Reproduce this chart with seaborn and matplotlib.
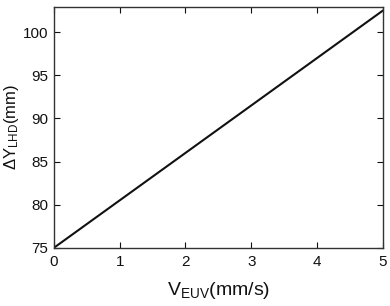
import pandas as pd
import matplotlib
matplotlib.use("Agg")
import matplotlib.pyplot as plt
import seaborn as sns

# Dados
v_euv = [0, 5]
delta_y = [75, 102.5]

sns.set_theme(style="ticks")
plt.rcParams['font.family'] = ['Liberation Sans', 'DejaVu Sans']
plt.rcParams['mathtext.fontset'] = 'custom'
plt.rcParams['mathtext.rm'] = 'Liberation Sans'
plt.rcParams['mathtext.it'] = 'Liberation Sans'

df = pd.DataFrame({'v': v_euv, 'dy': delta_y})

fig = plt.figure(figsize=(3.9, 3.06), dpi=100)
ax = fig.add_axes([0.138, 0.19, 0.844, 0.787])
sns.lineplot(data=df, x='v', y='dy', color='#111111', linewidth=1.5, ax=ax)

ax.set_xlim(0, 5)
ax.set_ylim(75, 102.9)
ax.set_xticks([0, 1, 2, 3, 4, 5])
ax.set_yticks([75, 80, 85, 90, 95, 100])
ax.tick_params(direction='in', top=True, right=True, length=4, width=0.8,
               labelsize=11, colors='#111111')
ax.tick_params(axis='x', pad=5)
ax.tick_params(axis='y', pad=4)
for s in ax.spines.values():
    s.set_linewidth(1.0)
    s.set_color('#333333')

ax.set_xlabel(r'V$_{\mathrm{EUV}}$(mm/s)', fontsize=14, labelpad=8, color='#111111')
ax.set_ylabel(r'$\Delta$Y$_{\mathrm{LHD}}$(mm)', fontsize=12, labelpad=1, color='#111111')

plt.savefig('out.png', dpi=100)
